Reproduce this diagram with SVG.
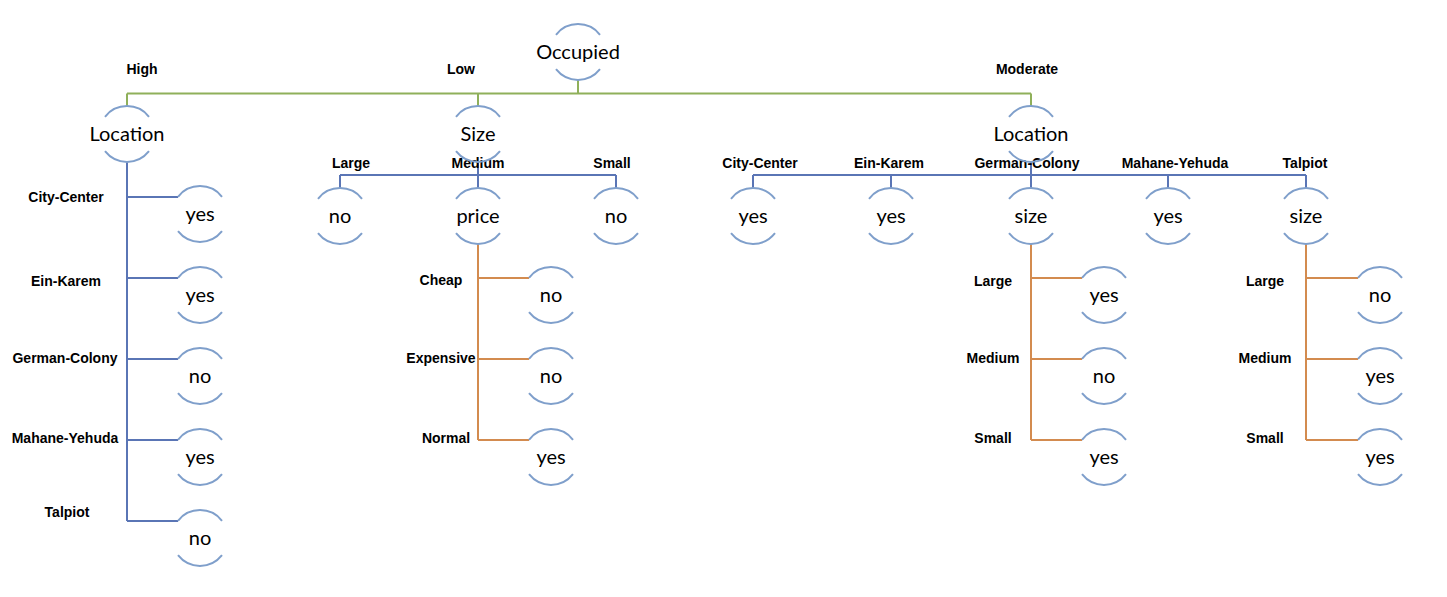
<svg xmlns="http://www.w3.org/2000/svg" xmlns:xlink="http://www.w3.org/1999/xlink" width="1447" height="597" viewBox="0 0 1447 597">
<style>
.ring{fill:none;stroke:#7f9fcb;stroke-width:2}
.nt{font-family:Lato,"Open Sans",sans-serif;font-size:20px;fill:#000;text-anchor:middle}
.el{font-family:"Liberation Sans",Arial,sans-serif;font-weight:bold;font-size:14px;fill:#000;text-anchor:middle}
.g{fill:none;stroke:#8fb05a;stroke-width:2}
.b{fill:none;stroke:#5a75b5;stroke-width:2}
.o{fill:none;stroke:#d38b4f;stroke-width:2}
</style>
<defs>
<path id="ring" class="ring" d="M-22,-17.2 A28,28 0 0 1 22,-17.2 M-22,17.2 A28,28 0 0 0 22,17.2"/>
</defs>
<rect width="1447" height="597" fill="#fff"/>
<g id="connectors">
<path class="g" d="M578,79 V93.5 M127,93.5 H1031 M127,93.5 V106 M478,93.5 V106 M1031,93.5 V106"/>
<path class="b" d="M127,162 V521 M127,197 H178 M127,278 H178 M127,359 H178 M127,440 H178 M127,521 H178"/>
<path class="b" d="M478,162 V188 M340,175 H616 M340,175 V188 M616,175 V188"/>
<path class="b" d="M1031,162 V188 M753,175 H1306 M753,175 V188 M891,175 V188 M1168,175 V188 M1306,175 V188"/>
<path class="o" d="M478,244 V440 M478,278 H529 M478,359 H529 M478,440 H529"/>
<path class="o" d="M1031,244 V440 M1031,278 H1082 M1031,359 H1082 M1031,440 H1082"/>
<path class="o" d="M1306,244 V440 M1306,278 H1358 M1306,359 H1358 M1306,440 H1358"/>
</g>
<g id="edge-labels">
<text class="el" x="142" y="74">High</text>
<text class="el" x="461" y="74">Low</text>
<text class="el" x="1027" y="74">Moderate</text>
<text class="el" x="351" y="168">Large</text>
<text class="el" x="478" y="168">Medium</text>
<text class="el" x="612" y="168">Small</text>
<text class="el" x="760" y="168">City-Center</text>
<text class="el" x="889" y="168">Ein-Karem</text>
<text class="el" x="1027" y="168">German-Colony</text>
<text class="el" x="1175" y="168">Mahane-Yehuda</text>
<text class="el" x="1305" y="168">Talpiot</text>
<text class="el" x="66" y="202">City-Center</text>
<text class="el" x="66" y="286">Ein-Karem</text>
<text class="el" x="65" y="363">German-Colony</text>
<text class="el" x="65" y="443">Mahane-Yehuda</text>
<text class="el" x="67" y="517">Talpiot</text>
<text class="el" x="441" y="285">Cheap</text>
<text class="el" x="441" y="363">Expensive</text>
<text class="el" x="446" y="443">Normal</text>
<text class="el" x="993" y="286">Large</text>
<text class="el" x="993" y="363">Medium</text>
<text class="el" x="993" y="443">Small</text>
<text class="el" x="1265" y="286">Large</text>
<text class="el" x="1265" y="363">Medium</text>
<text class="el" x="1265" y="443">Small</text>
</g>
<g id="n-occupied"><use href="#ring" x="578" y="52"/><text class="nt" x="578" y="59">Occupied</text></g>
<g id="n-location1"><use href="#ring" x="127" y="134"/><text class="nt" x="127" y="141">Location</text></g>
<g id="n-size1"><use href="#ring" x="478" y="134"/><text class="nt" x="478" y="141">Size</text></g>
<g id="n-location2"><use href="#ring" x="1031" y="134"/><text class="nt" x="1031" y="141">Location</text></g>
<g id="n-l1-cc"><use href="#ring" x="200" y="214"/><text class="nt" x="200" y="221">yes</text></g>
<g id="n-l1-ek"><use href="#ring" x="200" y="295"/><text class="nt" x="200" y="302">yes</text></g>
<g id="n-l1-gc"><use href="#ring" x="200" y="376"/><text class="nt" x="200" y="383">no</text></g>
<g id="n-l1-my"><use href="#ring" x="200" y="457"/><text class="nt" x="200" y="464">yes</text></g>
<g id="n-l1-ta"><use href="#ring" x="200" y="538"/><text class="nt" x="200" y="545">no</text></g>
<g id="n-s-large"><use href="#ring" x="340" y="216"/><text class="nt" x="340" y="223">no</text></g>
<g id="n-price"><use href="#ring" x="478" y="216"/><text class="nt" x="478" y="223">price</text></g>
<g id="n-s-small"><use href="#ring" x="616" y="216"/><text class="nt" x="616" y="223">no</text></g>
<g id="n-p-cheap"><use href="#ring" x="551" y="295"/><text class="nt" x="551" y="302">no</text></g>
<g id="n-p-exp"><use href="#ring" x="551" y="376"/><text class="nt" x="551" y="383">no</text></g>
<g id="n-p-norm"><use href="#ring" x="551" y="457"/><text class="nt" x="551" y="464">yes</text></g>
<g id="n-l2-cc"><use href="#ring" x="753" y="216"/><text class="nt" x="753" y="223">yes</text></g>
<g id="n-l2-ek"><use href="#ring" x="891" y="216"/><text class="nt" x="891" y="223">yes</text></g>
<g id="n-size2"><use href="#ring" x="1031" y="216"/><text class="nt" x="1031" y="223">size</text></g>
<g id="n-l2-my"><use href="#ring" x="1168" y="216"/><text class="nt" x="1168" y="223">yes</text></g>
<g id="n-size3"><use href="#ring" x="1306" y="216"/><text class="nt" x="1306" y="223">size</text></g>
<g id="n-s2-large"><use href="#ring" x="1104" y="295"/><text class="nt" x="1104" y="302">yes</text></g>
<g id="n-s2-med"><use href="#ring" x="1104" y="376"/><text class="nt" x="1104" y="383">no</text></g>
<g id="n-s2-small"><use href="#ring" x="1104" y="457"/><text class="nt" x="1104" y="464">yes</text></g>
<g id="n-s3-large"><use href="#ring" x="1380" y="295"/><text class="nt" x="1380" y="302">no</text></g>
<g id="n-s3-med"><use href="#ring" x="1380" y="376"/><text class="nt" x="1380" y="383">yes</text></g>
<g id="n-s3-small"><use href="#ring" x="1380" y="457"/><text class="nt" x="1380" y="464">yes</text></g>
</svg>
